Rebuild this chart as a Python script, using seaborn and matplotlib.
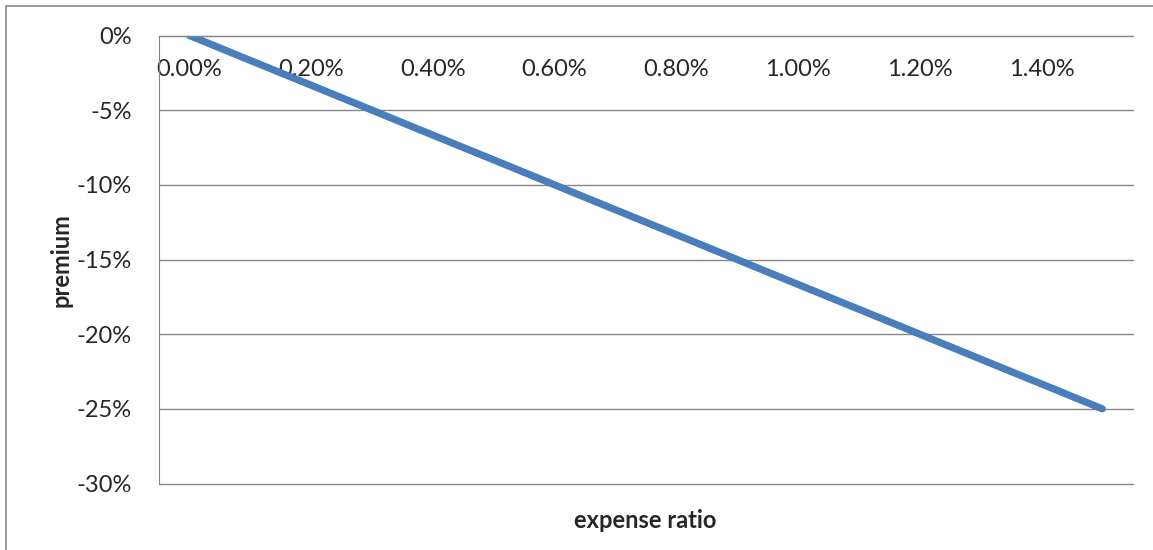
import matplotlib
matplotlib.use("Agg")
import matplotlib.pyplot as plt
from matplotlib.patches import Rectangle
from matplotlib.ticker import FixedLocator, FuncFormatter
import numpy as np
import pandas as pd
import seaborn as sns

# expense ratio (%) and resulting premium (%)
expense_ratio = [0.00, 0.10, 0.20, 0.30, 0.40, 0.50, 0.60, 0.70,
                 0.80, 0.90, 1.00, 1.10, 1.20, 1.30, 1.40, 1.50]
premium = [0.00, -1.67, -3.33, -5.00, -6.67, -8.33, -10.00, -11.67,
           -13.33, -15.00, -16.67, -18.33, -20.00, -21.67, -23.33, -25.00]
y_ticks = [0, -5, -10, -15, -20, -25, -30]

df = pd.DataFrame({"expense ratio": expense_ratio, "premium": premium})

sns.set_style("white")
plt.rcParams['font.family'] = ['Lato', 'DejaVu Sans']

GREY = "#868686"
BLUE = "#4A7EBB"
FS = 17

fig = plt.figure(figsize=(11.53, 5.5), dpi=100)
ax = fig.add_axes([159 / 1153, 1 - 483.5 / 550, (1132.7 - 159) / 1153, (483.5 - 35.5) / 550])

sns.lineplot(data=df, x="expense ratio", y="premium", color=BLUE, linewidth=5.2,
             sort=False, ax=ax, solid_capstyle="round")

step = expense_ratio[1] - expense_ratio[0]
ax.set_xlim(expense_ratio[0] - step / 2, expense_ratio[-1] + step / 2)
ax.set_ylim(min(y_ticks), max(y_ticks))

# x axis sits on the 0% line (top of plot), category-style boundaries
ax.spines['bottom'].set_position(('data', 0))
ax.spines['bottom'].set_color(GREY)
ax.spines['left'].set_color(GREY)
ax.spines['top'].set_visible(False)
ax.spines['right'].set_visible(False)

ax.xaxis.set_major_locator(FixedLocator(expense_ratio[::2]))
ax.xaxis.set_major_formatter(FuncFormatter(lambda v, p: "{:.2f}%".format(v)))
ax.xaxis.set_minor_locator(FixedLocator(list(np.array(expense_ratio) - step / 2) + [expense_ratio[-1] + step / 2]))
ax.tick_params(axis='x', which='major', length=0, pad=17, labelsize=FS)
ax.tick_params(axis='x', which='minor', length=6, width=1, color=GREY, direction='out')

ax.set_yticks(y_ticks)
ax.yaxis.set_major_formatter(FuncFormatter(lambda v, p: "{:.0f}%".format(v)))
ax.tick_params(axis='y', length=6.5, width=1, color=GREY, pad=13, labelsize=FS)

ax.grid(axis='y', color=GREY, linewidth=1)
ax.grid(axis='x', visible=False)
for line in ax.get_ygridlines():
    line.set_clip_on(False)

ax.set_xlabel("")
ax.set_ylabel("")
fig.text(645 / 1153, 1 - 521 / 550, "expense ratio", ha='center', va='center',
         fontsize=FS, fontweight='bold')
fig.text(61 / 1153, 1 - 260 / 550, "premium", ha='center', va='center',
         rotation=90, fontsize=FS, fontweight='bold')

# chart area border (only left and top edges fall inside the image)
fig.add_artist(Rectangle((6 / 1153, -0.1), 1.2, 1.1 - 5.5 / 550, transform=fig.transFigure,
                         fill=False, edgecolor=GREY, linewidth=1.2))

fig.savefig("out.png", dpi=100)
